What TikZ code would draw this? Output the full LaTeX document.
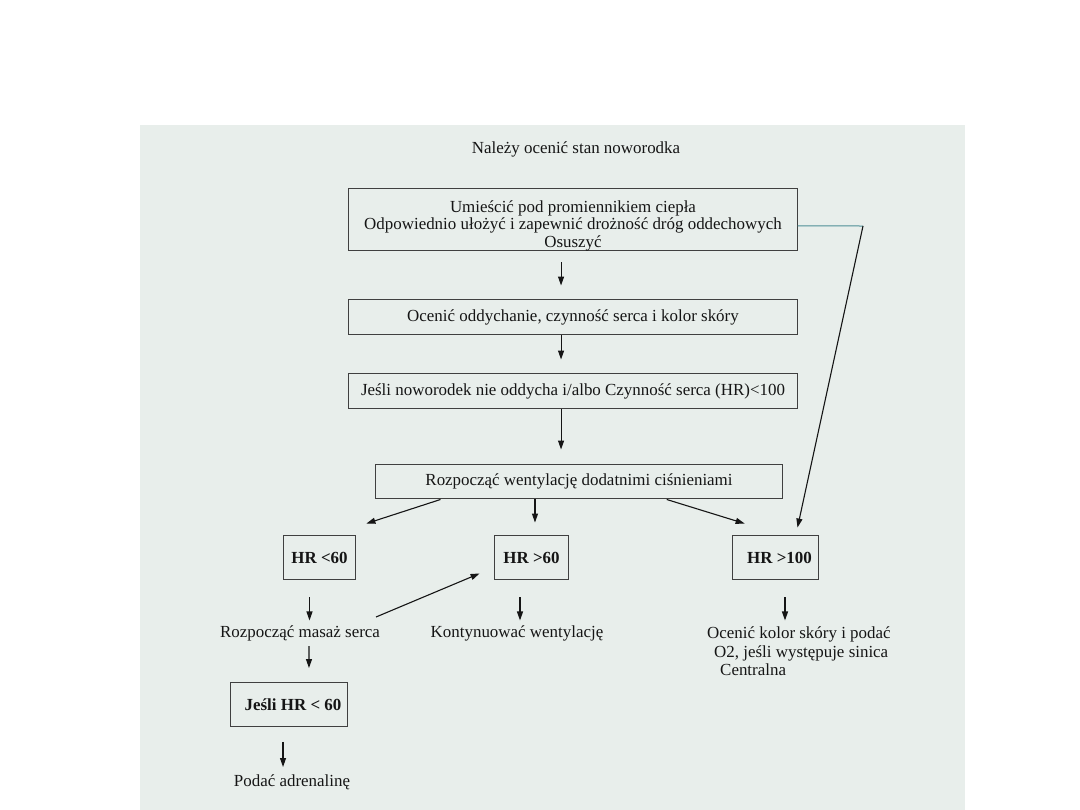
\documentclass[tikz,border=0pt]{standalone}
\usepackage{fontspec}
\setmainfont{Liberation Serif}
\usetikzlibrary{arrows.meta}
\definecolor{paper}{HTML}{E8EEEB}
\definecolor{ink}{HTML}{151515}
\definecolor{tealline}{HTML}{4E8E96}

\begin{document}
\begin{tikzpicture}[x=1bp,y=-1bp,font=\fontsize{17}{17.5}\selectfont,text=ink,>={Triangle[length=9bp,width=6bp]},
 box/.style 2 args={draw=black!75,line width=1.1bp,minimum width=#1,minimum height=#2,align=center,inner sep=0pt},
 hrbox/.style={box={#1}{45},font=\fontsize{17}{17.5}\selectfont\bfseries},
 arr/.style={->,draw=ink,line width=1.1bp}]
\useasboundingbox (0,0) rectangle (1080,810);
\fill[paper] (140,125) rectangle (965,810);
\node (title) at (576,149) {Należy ocenić stan noworodka};
\node[box={450}{61}] (warm) at (573,219.5) {\rule{0pt}{24bp}Umieścić pod promiennikiem ciepła\\Odpowiednio ułożyć i zapewnić drożność dróg oddechowych\\Osuszyć};
\node[box={450}{36}] (assess) at (573,317) {Ocenić oddychanie, czynność serca i kolor skóry};
\node[box={450}{36}] (check) at (573,391) {Jeśli noworodek nie oddycha i/albo Czynność serca (HR)<100};
\node[box={408}{35}] (vent) at (579,481.5) {Rozpocząć wentylację dodatnimi ciśnieniami};
\node[hrbox=73] (hrlo) at (319.5,557.5) {HR <60};
\node[hrbox=75] (hrmid) at (531.5,557.5) {HR >60};
\node[hrbox=87] (hrhi) at (775.5,557.5) {\hspace*{8bp}HR >100};
\node (mass) at (300,633) {Rozpocząć masaż serca};
\node (cont) at (517,633) {Kontynuować wentylację};
\node[align=left,anchor=north west,inner sep=0pt,font=\fontsize{17}{18.5}\selectfont] (skin) at (707,627) {Ocenić kolor skóry i podać\\\hspace*{7bp}O2, jeśli występuje sinica\\\hspace*{13bp}Centralna};
\node[box={117}{44},font=\fontsize{17}{17.5}\selectfont\bfseries] (again) at (289,704.5) {\hspace*{8bp}Jeśli HR < 60};
\node (adren) at (292,782) {Podać adrenalinę};
\coordinate (bend) at (863,226);
% main column
\draw[arr,shorten <=11bp,shorten >=13bp] ([xshift=-12]warm.south) -- ([xshift=-12]assess.north);
\draw[arr,shorten >=13bp] ([xshift=-12]assess.south) -- ([xshift=-12]check.north);
\draw[arr,shorten >=14bp] ([xshift=-12]check.south) -- ([xshift=-12]check.south |- vent.north);
% branches
\draw[arr] ([xshift=-139]vent.south) -- ([shift={(10,-11)}]hrlo.north east);
\draw[arr,shorten >=12bp] ([xshift=3.5]hrmid.north |- vent.south) -- ([xshift=3.5]hrmid.north);
\draw[arr] ([xshift=88]vent.south) -- ([shift={(13,-11)}]hrhi.north west);
\draw[tealline,line width=1bp] ([yshift=-6.5]warm.east) -- (bend);
\draw[arr] (bend) -- ([shift={(22,-7)}]hrhi.north);
% below the boxes
\draw[arr] ([shift={(-10,17)}]hrlo.south) -- ++(0,23);
\draw[arr] ([shift={(-11.5,17)}]hrmid.south) -- ++(0,23);
\draw[arr] ([shift={(9.5,17)}]hrhi.south) -- ++(0,23);
\draw[arr] ([shift={(76,-16)}]mass.center) -- ([shift={(-14,-7)}]hrmid.south west);
\draw[arr,shorten >=14bp] ([shift={(9,13)}]mass.center) -- ([xshift=9]mass.center |- again.north);
\draw[arr,shorten <=15bp,shorten >=15bp] ([xshift=-6]again.south) -- ([xshift=-6]again.south |- adren.center);
\end{tikzpicture}
\end{document}
